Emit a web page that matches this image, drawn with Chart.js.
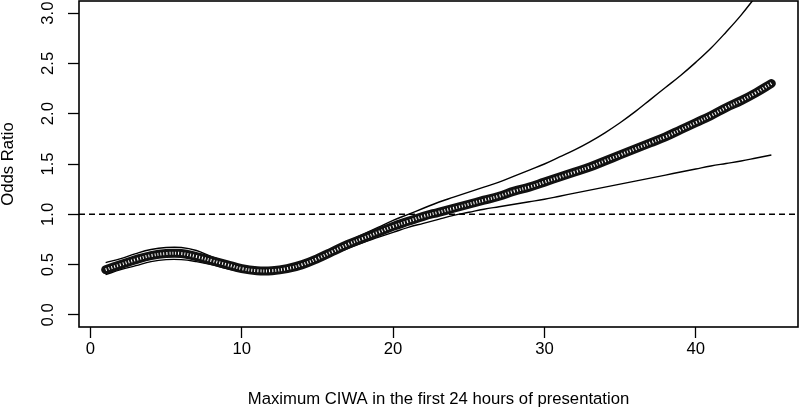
<!DOCTYPE html>
<html lang="en">
<head>
<meta charset="UTF-8">
<title>Odds ratio by maximum CIWA</title>
<script src="https://cdn.jsdelivr.net/npm/chart.js"></script>
<style>
  html, body { margin: 0; padding: 0; background: #fff; }
  #wrap { width: 800px; height: 410px; }
</style>
</head>
<body>
<div id="wrap"><canvas id="orChart"></canvas></div>
<script>
// values
const ciwa = [1, 2, 3, 4, 5, 6, 7, 8, 9, 10, 11, 12, 13, 14, 15, 16, 17, 18, 19, 20, 21, 22, 23,
              24, 25, 26, 27, 28, 29, 30, 31, 32, 33, 34, 35, 36, 37, 38, 39, 40, 41, 42, 43, 44, 45];
const oddsRatio = [0.45, 0.50, 0.55, 0.59, 0.61, 0.61, 0.58, 0.54, 0.50, 0.46, 0.44, 0.44, 0.46, 0.50, 0.56,
                   0.63, 0.70, 0.76, 0.82, 0.88, 0.93, 0.98, 1.02, 1.06, 1.10, 1.14, 1.18, 1.23, 1.27, 1.32,
                   1.37, 1.42, 1.47, 1.53, 1.59, 1.65, 1.71, 1.77, 1.84, 1.91, 1.98, 2.06, 2.13, 2.21, 2.30];
const upperCI = [0.52, 0.56, 0.61, 0.65, 0.67, 0.67, 0.64, 0.58, 0.53, 0.49, 0.47, 0.46, 0.48, 0.52, 0.58,
                 0.66, 0.73, 0.80, 0.87, 0.94, 1.00, 1.06, 1.12, 1.17, 1.22, 1.27, 1.32, 1.38, 1.44, 1.50,
                 1.57, 1.64, 1.72, 1.81, 1.91, 2.02, 2.14, 2.26, 2.38, 2.51, 2.65, 2.81, 2.98, 3.17, 3.36];
const lowerCI = [0.40, 0.45, 0.49, 0.53, 0.55, 0.55, 0.53, 0.50, 0.46, 0.43, 0.41, 0.41, 0.43, 0.47, 0.53,
                 0.60, 0.66, 0.72, 0.77, 0.82, 0.87, 0.91, 0.95, 0.99, 1.02, 1.05, 1.075, 1.10, 1.125, 1.15,
                 1.18, 1.21, 1.24, 1.27, 1.30, 1.33, 1.36, 1.39, 1.42, 1.45, 1.48, 1.505, 1.53, 1.56, 1.59];
const xTicks = [0, 10, 20, 30, 40];
const yTicks = [0, 0.5, 1, 1.5, 2, 2.5, 3];
const xRange = [-0.76, 46.76];
const yRange = [-0.12, 3.12];
const refLevel = [1, 1];

const pts = ys => ciwa.map((x, i) => ({ x: x, y: ys[i] }));
const font = { family: "'Liberation Sans', Arial, Helvetica, sans-serif", size: 16.7 };

// plot box like R's bty="o"
const frame = {
  id: 'frame',
  afterDraw(chart) {
    const { ctx, chartArea: a } = chart;
    ctx.save();
    ctx.strokeStyle = '#000';
    ctx.lineWidth = 1.6;
    ctx.strokeRect(a.left, a.top, a.width, a.height);
    ctx.restore();
  }
};

new Chart(document.getElementById('orChart'), {
  type: 'line',
  data: {
    datasets: [
      {   // white stripes inside the circle band
        data: pts(oddsRatio),
        borderColor: '#fff',
        borderWidth: 3,
        borderDash: [1, 2],
        tension: 0.4,
        pointRadius: 0
      },
      {
        label: 'Odds ratio',
        data: pts(oddsRatio),
        borderColor: '#111',
        borderWidth: 9,
        borderCapStyle: 'round',
        tension: 0.4,
        pointRadius: 0
      },
      {
        label: 'Upper 95% CI',
        data: pts(upperCI),
        borderColor: '#000',
        borderWidth: 1.4,
        tension: 0.4,
        pointRadius: 0
      },
      {
        label: 'Lower 95% CI',
        data: pts(lowerCI),
        borderColor: '#000',
        borderWidth: 1.4,
        tension: 0.4,
        pointRadius: 0
      },
      {
        label: 'OR = 1',
        data: xRange.map((x, i) => ({ x: x, y: refLevel[i] })),
        borderColor: '#000',
        borderWidth: 1.5,
        borderDash: [6, 4],
        pointRadius: 0
      }
    ]
  },
  options: {
    responsive: true,
    maintainAspectRatio: false,
    animation: false,
    layout: { padding: { top: 1, right: 2, left: 0, bottom: 0 } },
    plugins: { legend: { display: false }, tooltip: { enabled: false } },
    scales: {
      x: {
        type: 'linear',
        min: xRange[0],
        max: xRange[1],
        afterBuildTicks: s => { s.ticks = xTicks.map(v => ({ value: v })); },
        afterFit: s => { s.height = 83; s.paddingLeft = 0; s.paddingRight = 0; },
        ticks: { color: '#000', font: font, padding: 1, autoSkip: false, maxRotation: 0,
                 callback: v => String(v) },
        grid: { drawOnChartArea: false, drawTicks: true, tickLength: 11, tickColor: '#000', tickWidth: 1.3 },
        border: { display: false },
        title: {
          display: true,
          text: 'Maximum CIWA in the first 24 hours of presentation',
          color: '#000',
          font: font,
          padding: { top: 0, bottom: 1 }
        }
      },
      y: {
        min: yRange[0],
        max: yRange[1],
        afterBuildTicks: s => { s.ticks = yTicks.map(v => ({ value: v })); },
        afterFit: s => { s.width = 79; s.paddingTop = 0; s.paddingBottom = 0; },
        ticks: { color: '#000', font: font, padding: 8, minRotation: 90, maxRotation: 90,
                 crossAlign: 'center', callback: v => v.toFixed(1) },
        grid: { drawOnChartArea: false, drawTicks: true, tickLength: 11, tickColor: '#000', tickWidth: 1.3 },
        border: { display: false },
        title: {
          display: true,
          text: 'Odds Ratio',
          color: '#000',
          font: Object.assign({}, font, { lineHeight: 1 }),
          padding: 0
        }
      }
    }
  },
  plugins: [frame]
});
</script>
</body>
</html>
